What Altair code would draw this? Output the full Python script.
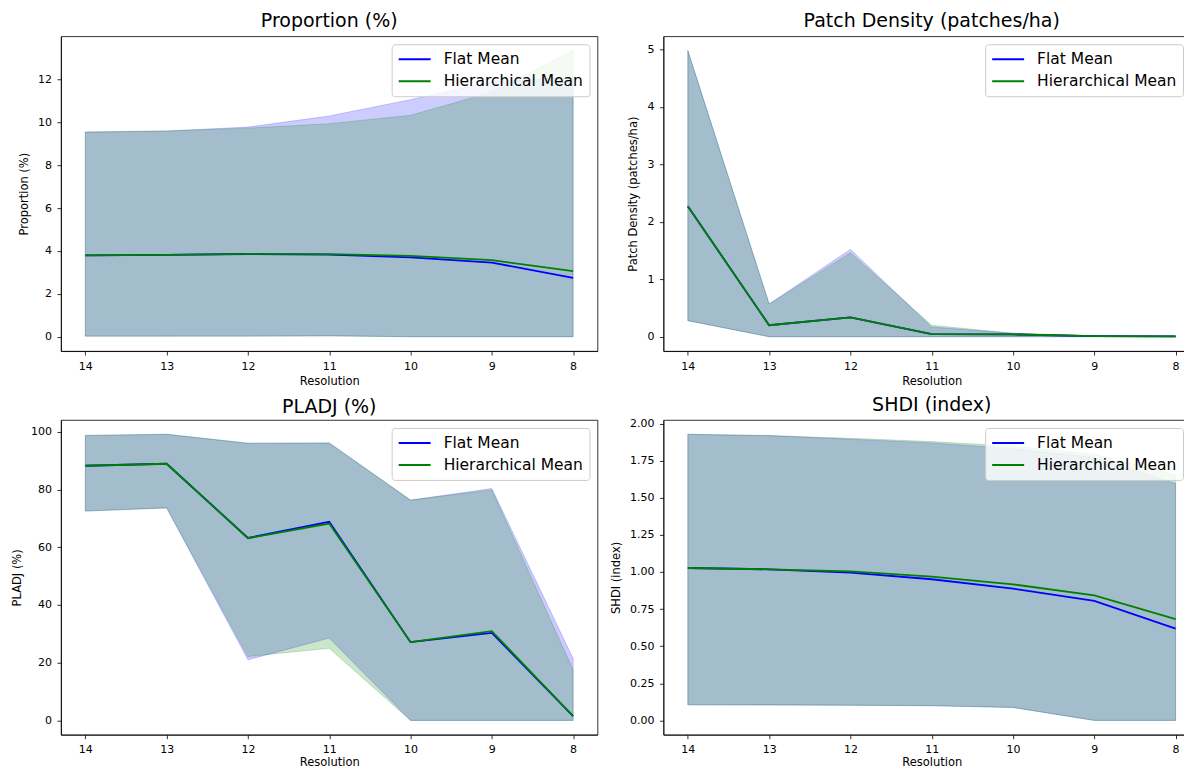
import altair as alt
import pandas as pd

FONT = "DejaVu Sans"
res = [14, 13, 12, 11, 10, 9, 8]
series_names = ["Flat Mean", "Hierarchical Mean"]
series_colors = ["blue", "green"]

# Proportion (%)
prop_flat_mean = [3.80, 3.82, 3.86, 3.83, 3.70, 3.46, 2.75]
prop_flat_lo = [0.03, 0.03, 0.04, 0.05, 0.0, 0.0, 0.0]
prop_flat_hi = [9.55, 9.60, 9.78, 10.30, 11.06, 11.90, 12.10]
prop_hier_mean = [3.80, 3.82, 3.87, 3.85, 3.77, 3.57, 3.06]
prop_hier_lo = [0.02, 0.02, 0.02, 0.03, 0.0, 0.0, 0.0]
prop_hier_hi = [9.55, 9.60, 9.73, 9.94, 10.33, 11.41, 13.35]

# Patch Density (patches/ha)
pd_flat_mean = [2.27, 0.20, 0.336, 0.046, 0.040, 0.010, 0.005]
pd_flat_lo = [0.28, 0.0, 0.0, 0.0, 0.0, 0.0, 0.0]
pd_flat_hi = [4.98, 0.57, 1.52, 0.17, 0.06, 0.012, 0.010]
pd_hier_mean = [2.27, 0.20, 0.336, 0.046, 0.040, 0.010, 0.005]
pd_hier_lo = [0.28, 0.0, 0.0, 0.0, 0.0, 0.0, 0.0]
pd_hier_hi = [4.98, 0.57, 1.46, 0.20, 0.06, 0.012, 0.010]

# PLADJ (%)
pl_flat_mean = [88.2, 88.9, 63.2, 68.8, 27.1, 30.3, 1.5]
pl_flat_lo = [72.5, 73.6, 21.0, 28.5, 0.0, 0.0, 0.0]
pl_flat_hi = [98.7, 99.1, 96.0, 96.1, 76.3, 80.3, 21.4]
pl_hier_mean = [88.2, 88.9, 63.1, 68.2, 27.1, 30.9, 1.5]
pl_hier_lo = [72.5, 73.6, 22.1, 25.0, 0.0, 0.0, 0.0]
pl_hier_hi = [98.7, 99.1, 96.0, 96.1, 76.3, 79.8, 17.5]

# SHDI (index)
sh_flat_mean = [1.027, 1.018, 0.996, 0.951, 0.888, 0.805, 0.619]
sh_flat_lo = [0.105, 0.104, 0.102, 0.099, 0.087, 0.0, 0.0]
sh_flat_hi = [1.928, 1.919, 1.895, 1.870, 1.832, 1.771, 1.596]
sh_hier_mean = [1.027, 1.018, 1.004, 0.969, 0.917, 0.843, 0.682]
sh_hier_lo = [0.105, 0.104, 0.102, 0.099, 0.087, 0.0, 0.0]
sh_hier_hi = [1.928, 1.919, 1.901, 1.879, 1.848, 1.794, 1.655]

prop_ticks = [0, 2, 4, 6, 8, 10, 12]
pd_ticks = [0, 1, 2, 3, 4, 5]
pl_ticks = [0, 20, 40, 60, 80, 100]
sh_ticks = [0.0, 0.25, 0.5, 0.75, 1.0, 1.25, 1.5, 1.75, 2.0]

W = 537
H = 315


def make_df(name, mean, lo, hi):
    return pd.DataFrame({"res": res, "series": name, "mean": mean, "lo": lo, "hi": hi})


def panel(title, ytitle, fm, flo, fhi, hm, hlo, hhi, yticks, yfmt, right_col, bottom_row):
    dff = make_df(series_names[0], fm, flo, fhi)
    dfh = make_df(series_names[1], hm, hlo, hhi)
    df = pd.concat([dff, dfh], ignore_index=True)
    allv = fm + flo + fhi + hm + hlo + hhi
    mn, mx = min(allv), max(allv)
    r = mx - mn
    ydom = [mn - 0.05 * r, mx + 0.05 * r]
    xscale = alt.Scale(domain=[14.3, 7.7], nice=False, zero=False)
    yscale = alt.Scale(domain=ydom, nice=False, zero=False)
    if bottom_row:
        xaxis = alt.Axis(values=res, format="d", title="Resolution",
                         labelPadding=5, titlePadding=2)
    else:
        xaxis = alt.Axis(values=res, format="d", title="Resolution",
                         labelPadding=5.5, titlePadding=4)
    xenc = alt.X("res:Q", scale=xscale, axis=xaxis)
    yaxis = alt.Axis(values=yticks, format=yfmt, title=ytitle)

    legend_kw = dict(
        title=None, fillColor="rgba(255,255,255,0.8)", strokeColor="#cccccc",
        cornerRadius=3, padding=6, labelFontSize=15.5, labelFont=FONT,
        labelColor="#000000", symbolType="M-1,0H3", symbolSize=256,
        symbolStrokeWidth=2, labelOffset=28, rowPadding=4, labelLimit=400,
    )
    if right_col:
        legend = alt.Legend(orient="none", legendX=322, legendY=8, **legend_kw)
    else:
        legend = alt.Legend(orient="top-right", offset=8, **legend_kw)

    def band(d, col):
        return alt.Chart(d).mark_area(
            fill=col, fillOpacity=0.2, stroke=col, strokeOpacity=0.2, strokeWidth=1
        ).encode(x=xenc, y=alt.Y("lo:Q", scale=yscale, axis=yaxis), y2="hi:Q")

    lines = alt.Chart(df).mark_line(strokeWidth=1.8).encode(
        x=xenc,
        y=alt.Y("mean:Q", scale=yscale, axis=yaxis),
        stroke=alt.Stroke(
            "series:N",
            scale=alt.Scale(domain=series_names, range=series_colors),
            legend=legend,
        ),
    )
    return alt.layer(band(dff, "blue"), band(dfh, "green"), lines).properties(
        width=W, height=H,
        title=alt.TitleParams(title, fontSize=19, font=FONT, fontWeight="normal",
                              anchor="middle", color="#000000",
                              offset=3 if bottom_row else 5),
    )


p1 = panel("Proportion (%)", "Proportion (%)", prop_flat_mean, prop_flat_lo, prop_flat_hi,
           prop_hier_mean, prop_hier_lo, prop_hier_hi, prop_ticks, "d", False, False)
p2 = panel("Patch Density (patches/ha)", "Patch Density (patches/ha)", pd_flat_mean, pd_flat_lo,
           pd_flat_hi, pd_hier_mean, pd_hier_lo, pd_hier_hi, pd_ticks, "d", True, False)
p3 = panel("PLADJ (%)", "PLADJ (%)", pl_flat_mean, pl_flat_lo, pl_flat_hi,
           pl_hier_mean, pl_hier_lo, pl_hier_hi, pl_ticks, "d", False, True)
p4 = panel("SHDI (index)", "SHDI (index)", sh_flat_mean, sh_flat_lo, sh_flat_hi,
           sh_hier_mean, sh_hier_lo, sh_hier_hi, sh_ticks, ".2f", True, True)

chart = alt.concat(p1, p2, p3, p4, columns=2, spacing={"column": 11, "row": 7}).resolve_scale(
    x="independent", y="independent", stroke="independent"
).properties(
    padding={"left": 3, "top": 3, "right": -17, "bottom": 0},
    background="white",
).configure_view(
    stroke="#000000", strokeWidth=0.8
).configure_axis(
    grid=False, domainColor="#000000", domainWidth=0.8, tickColor="#000000",
    tickSize=4, tickWidth=0.8, labelFont=FONT, labelFontSize=11, labelColor="#000000",
    titleFont=FONT, titleFontSize=11.5, titleFontWeight="normal", titleColor="#000000",
    labelPadding=5.5,
).configure_axisY(
    titlePadding=8
)

chart.save("out.html", embed_options={"renderer": "svg", "actions": False})
